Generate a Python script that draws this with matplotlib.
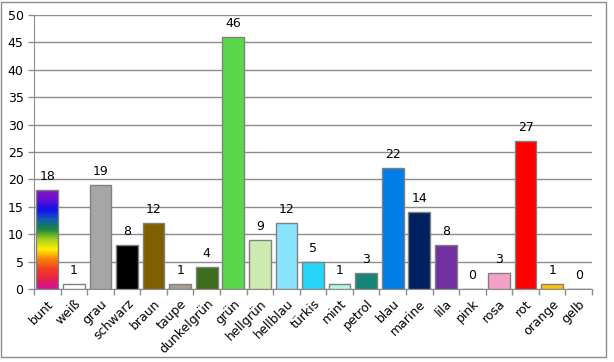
import numpy as np
import matplotlib.pyplot as plt
from matplotlib.colors import LinearSegmentedColormap
from matplotlib.patches import Rectangle

# data
categories = ['bunt', 'weiß', 'grau', 'schwarz', 'braun', 'taupe', 'dunkelgrün',
              'grün', 'hellgrün', 'hellblau', 'türkis', 'mint', 'petrol', 'blau',
              'marine', 'lila', 'pink', 'rosa', 'rot', 'orange', 'gelb']
values = [18, 1, 19, 8, 12, 1, 4, 46, 9, 12, 5, 1, 3, 22, 14, 8, 0, 3, 27, 1, 0]
bar_colors = ['none', '#FFFFFF', '#A6A6A6', '#000000', '#7F6000', '#A89C90',
              '#3C6E1C', '#5CD64C', '#CDEBB0', '#88E3FF', '#27D5F7', '#B5F7E5',
              '#168577', '#007EE5', '#00205F', '#7030A0', '#FF66CC', '#F5A0C8',
              '#FF0000', '#FFC000', '#FFFF00']

# rainbow used for the "bunt" bar, bottom -> top
rainbow = ['#D0109E', '#E8204A', '#F04020', '#F88010', '#FFF000', '#A8D020',
           '#208838', '#1060B0', '#1010F0', '#6010D0', '#8A10C0']

fig = plt.figure(figsize=(6.14, 3.62), dpi=100)
ax = fig.add_axes([34 / 614, 1 - 289 / 362, (592 - 34) / 614, (289 - 15) / 362])

x = np.arange(len(categories))
bars = ax.bar(x, values, width=0.82, color=bar_colors, edgecolor='#808080',
              linewidth=1, zorder=3)

# gradient fill for bunt
b = bars[0]
cmap = LinearSegmentedColormap.from_list('bunt', rainbow)
grad = np.linspace(0, 1, 256).reshape(-1, 1)
im = ax.imshow(grad, cmap=cmap, origin='lower', aspect='auto', zorder=2.5,
               extent=[b.get_x(), b.get_x() + b.get_width(), 0, b.get_height()])
im.set_clip_path(Rectangle((b.get_x(), 0), b.get_width(), b.get_height(),
                           transform=ax.transData))

for xi, v in zip(x, values):
    ax.annotate(str(v), (xi, v), xytext=(0, 5), textcoords='offset points',
                ha='center', va='bottom', fontsize=9)

ax.set_xlim(-0.5, len(categories) - 0.5)
ax.set_ylim(0, 50)
ax.set_yticks(range(0, 51, 5))
ax.yaxis.grid(True, color='#8C8C8C', linewidth=1)
ax.set_axisbelow(True)

ax.set_xticks(x)
ax.set_xticklabels(categories, rotation=45, ha='right', rotation_mode='anchor',
                   fontsize=9)
ax.set_xticks(np.arange(-0.5, len(categories)), minor=True)
ax.tick_params(axis='x', which='major', length=0, pad=6)
ax.tick_params(axis='x', which='minor', length=4, color='#8C8C8C', width=1)
ax.tick_params(axis='y', length=4, color='#8C8C8C', width=1, labelsize=9)

for s in ['top', 'right']:
    ax.spines[s].set_visible(False)
for s in ['left', 'bottom']:
    ax.spines[s].set_color('#8C8C8C')

# outer border of the chart
fig.patches.append(Rectangle((1 / 614, 1 - 357 / 362), 605 / 614, 355 / 362,
                             transform=fig.transFigure, fill=False,
                             edgecolor='#8C8C8C', linewidth=1))

fig.savefig('out.png', dpi=100)
